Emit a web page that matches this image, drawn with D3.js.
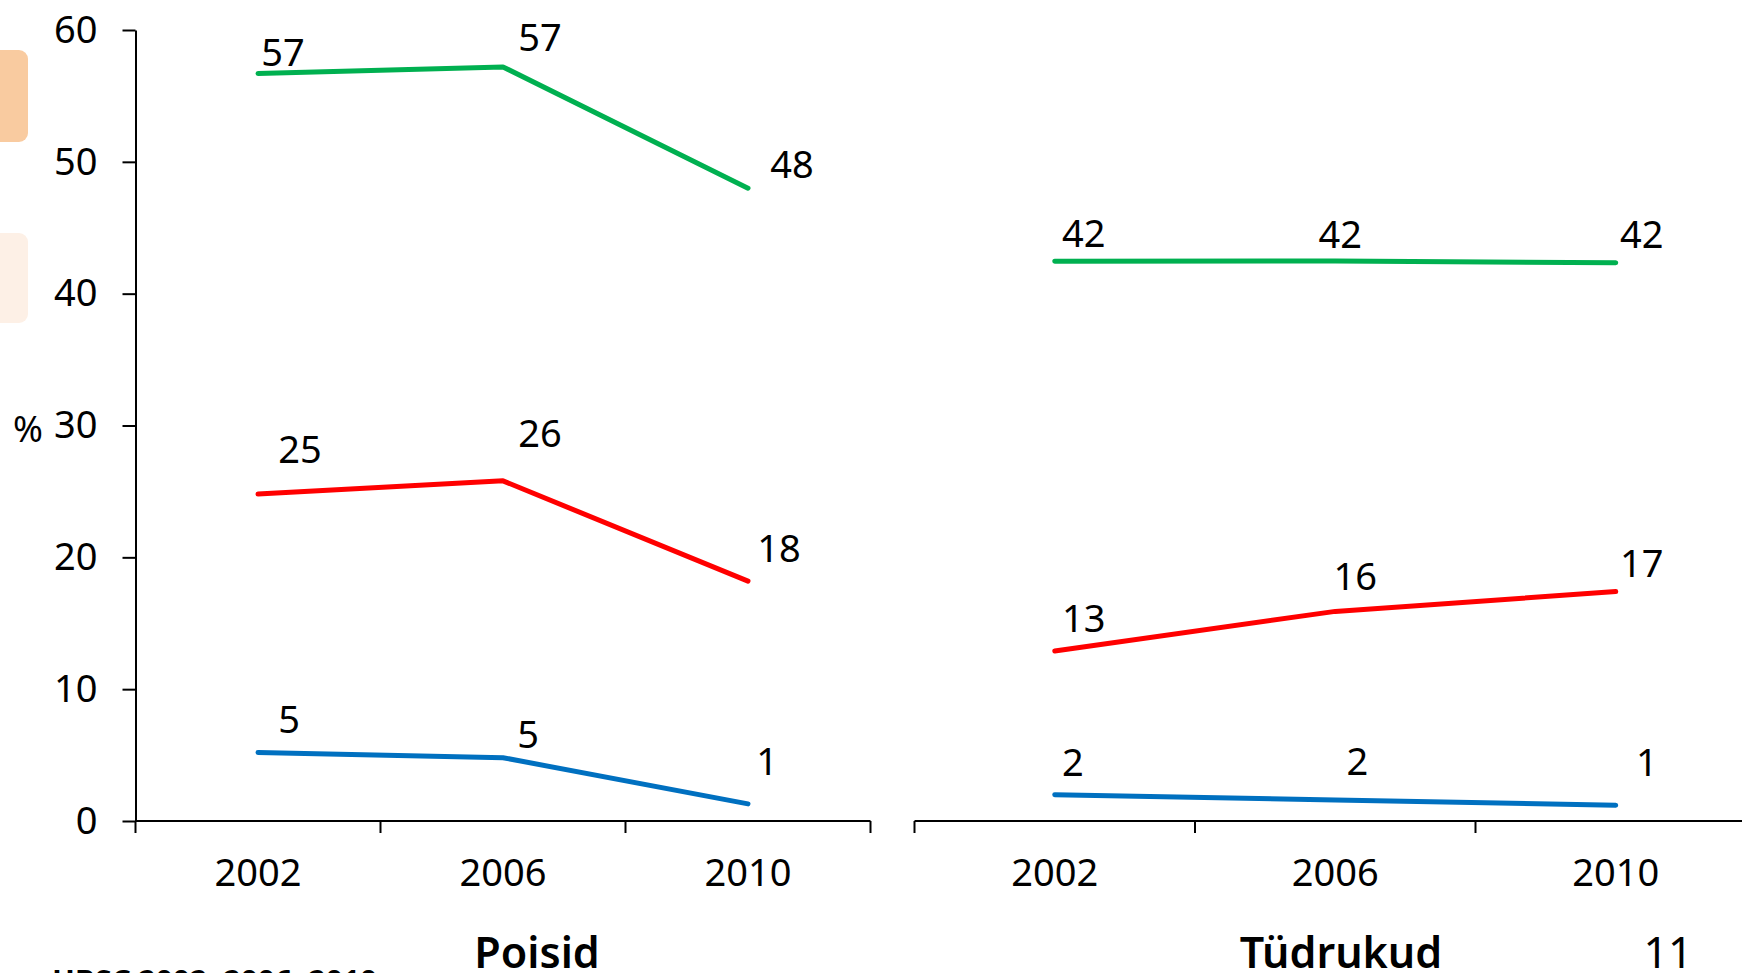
<!DOCTYPE html>
<html>
<head>
<meta charset="utf-8">
<script src="https://cdn.jsdelivr.net/npm/d3@7"></script>
<style>
  body { margin: 0; background: #fff; }
  text { font-family: "Noto Sans", "Open Sans", sans-serif; fill: #000; }
</style>
</head>
<body>
<div class="canvas"></div>
<script>
// data
const years = ['2002', '2006', '2010'];

const boysGreen = [56.7, 57.2, 48.0];
const boysRed = [24.8, 25.8, 18.2];
const boysBlue = [5.2, 4.8, 1.3];

const girlsGreen = [42.45, 42.48, 42.35];
const girlsRed = [12.9, 15.9, 17.4];
const girlsBlue = [2.0, 1.6, 1.2];

const yTicks = [0, 10, 20, 30, 40, 50, 60];
const panelTitles = ['Poisid', 'Tüdrukud'];

// label nudges (dx, dy) like the hand placed excel labels
const nudgeBoys = [
    [[25, -23], [37, -31], [44, -25]],
    [[42, -46], [37, -49], [31, -34]],
    [[31, -34], [25, -25], [19, -44]]
];
const nudgeGirls = [
    [[29, -29], [5, -28], [26, -30]],
    [[29, -34], [20, -36], [26, -30]],
    [[18, -34], [22, -40], [31, -44]]
];

const colours = ['#00b050', '#ff0000', '#0070c0'];

const dims = { width: 1742, height: 973 };

const svg = d3.select('.canvas')
    .append('svg')
    .attr('width', dims.width)
    .attr('height', dims.height);

// side tabs
svg.append('rect')
    .attr('x', -20).attr('y', 50).attr('width', 48).attr('height', 92)
    .attr('rx', 9).attr('fill', '#f9cba0');
svg.append('rect')
    .attr('x', -20).attr('y', 233).attr('width', 48).attr('height', 90)
    .attr('rx', 9).attr('fill', '#fdf0e6');

const y = d3.scaleLinear()
    .domain([0, 60])
    .range([821, 30]);

const xBoys = d3.scaleBand().domain(years).range([135.5, 870.5]);
const xGirls = d3.scaleBand().domain(years).range([914.5, 1756]);

// y axis
const yAxis = d3.axisLeft(y)
    .tickValues(yTicks)
    .tickSize(13)
    .tickSizeOuter(0)
    .tickPadding(25);

const yg = svg.append('g')
    .attr('transform', 'translate(135.5,0)')
    .call(yAxis);
yg.selectAll('path, line').attr('stroke', '#000').attr('stroke-width', 2);
yg.selectAll('text').attr('font-size', 38).attr('font-family', '"Noto Sans", sans-serif').attr('fill', '#000');

svg.append('text')
    .attr('x', 28).attr('y', 428)
    .attr('text-anchor', 'middle')
    .attr('dominant-baseline', 'central')
    .attr('font-size', 36)
    .text('%');

const line = (x) => d3.line()
    .x((d, i) => x(years[i]) + x.bandwidth() / 2)
    .y(d => y(d));

const drawPanel = (x, series, nudges, title, titleX) => {
    // x axis: labels from the band scale, ticks on the band edges
    const xAxis = d3.axisBottom(x).tickSize(0).tickPadding(38).tickSizeOuter(0);
    const xg = svg.append('g')
        .attr('transform', 'translate(0,821)')
        .call(xAxis);
    xg.select('.domain').remove();
    xg.selectAll('text').attr('font-size', 38).attr('font-family', '"Noto Sans", sans-serif').attr('fill', '#000');

    const [r0, r1] = x.range();
    svg.append('line')
        .attr('x1', r0).attr('x2', r1)
        .attr('y1', 821).attr('y2', 821)
        .attr('stroke', '#000').attr('stroke-width', 2);

    const edges = years.map(d => x(d)).concat([x(years[years.length - 1]) + x.step()]);
    svg.append('g').selectAll('line')
        .data(edges)
        .enter().append('line')
        .attr('x1', d => d).attr('x2', d => d)
        .attr('y1', 821).attr('y2', 833)
        .attr('stroke', '#000').attr('stroke-width', 2);

    series.forEach((values, s) => {
        svg.append('path')
            .datum(values)
            .attr('d', line(x))
            .attr('fill', 'none')
            .attr('stroke', colours[s])
            .attr('stroke-width', 5)
            .attr('stroke-linecap', 'round')
            .attr('stroke-linejoin', 'round');

        svg.append('g').selectAll('text')
            .data(values)
            .enter().append('text')
            .attr('x', (d, i) => x(years[i]) + x.bandwidth() / 2 + nudges[s][i][0])
            .attr('y', (d, i) => y(d) + nudges[s][i][1])
            .attr('text-anchor', 'middle')
            .attr('dominant-baseline', 'central')
            .attr('font-size', 38)
            .text(d => d3.format('.0f')(d));
    });

    svg.append('text')
        .attr('x', titleX).attr('y', 968)
        .attr('text-anchor', 'middle')
        .attr('font-size', 43)
        .attr('font-weight', 600)
        .text(title);
};

drawPanel(xBoys, [boysGreen, boysRed, boysBlue], nudgeBoys, panelTitles[0], 537);
drawPanel(xGirls, [girlsGreen, girlsRed, girlsBlue], nudgeGirls, panelTitles[1], 1341);

// slide number and source
svg.append('text')
    .attr('x', 1668).attr('y', 968)
    .attr('text-anchor', 'middle')
    .attr('font-size', 43)
    .text('11');

svg.append('text')
    .attr('x', 52).attr('y', 992)
    .attr('font-size', 30)
    .attr('font-weight', 'bold')
    .text('HBSC 2002, 2006, 2010');
</script>
</body>
</html>
